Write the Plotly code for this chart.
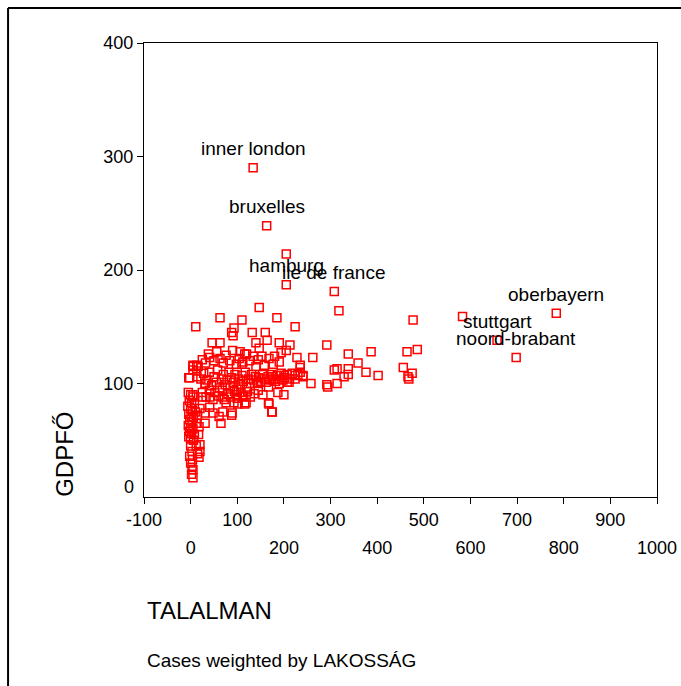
import plotly.graph_objects as go

# Labelled regions
label_names = ["inner london", "bruxelles", "hamburg", "ile de france", "oberbayern", "stuttgart", "noord-brabant"]
label_x = [134, 163, 205, 308, 784, 657, 698]
label_y = [290, 239, 187, 181, 162, 138, 123]

# Unlabelled regions (TALALMAN, GDPFŐ)
other_x = [
    205, 583, 318, 477, 486, 464, 456, 466, 475, 468, 387, 359, 338, 292, 262, 228, 224,
    235, 235, 235, 224, 241, 258, 292, 294, 314, 308, 314, 338, 338, 329, 376, 402,
    147, 185, 110, 63, 11, 93, 88, 91, 132, 160, 164, 140, 190, 213, 147, 205, 106, 116,
    134, 153, 194, 190, 177, 46, 63, 41, 63, 5, 13, 5, 13, -4, 13, 31, 140, 110,
    200, 211, 175, 190, 200, 187, 167, 167, 175, 112, 116, 101, 88, 5, 26,
    31, 65, 31, 48, 41, 61, 69, 89, 41, 69, 99, 93, 76, 119, 168, 174, 31, 5, 16, -2, 207, 241,
    -5, 0, 5, -3, 2, 8, -6, 0, 4, 10, -4, 1, 6, -2, 3, 12, -5, 0, 5, -3, 2, 8, -4, 0, 6,
    15, 18, 20, 17, 20, 20, 12, 0, 3, -2, 4, 0, 3, 5, 2, 5, 18, 15,
    22, 28, 35, 40, 45, 50, 55, 58, 62, 66, 70, 74, 78, 82, 85, 88, 92, 95, 99, 102,
    106, 110, 113, 117, 120, 124, 128, 131, 135, 139, 143, 146, 150, 154, 158, 162, 166, 170,
    174, 178, 182, 186, 190, 194, 198, 202, 207, 212, 218, 224, 230,
    25, 33, 40, 48, 52, 60, 68, 72, 80, 86, 94, 100, 108, 114, 122, 128, 136, 145, 155,
    25, 32, 38, 50, 56, 70, 76, 84, 90, 98, 104, 112, 120, 126, 145, 158, 168, 180,
]
other_y = [
    214, 159, 164, 156, 130, 128, 114, 106, 109, 104, 128, 118, 126, 134, 123, 123, 150,
    116, 114, 110, 107, 106, 100, 99, 97, 100, 112, 113, 113, 108, 106, 110, 107,
    167, 158, 156, 158, 150, 149, 145, 142, 145, 145, 138, 136, 136, 134, 131, 129, 128, 126,
    124, 124, 127, 119, 117, 136, 136, 123, 122, 116, 116, 112, 111, 105, 106, 100, 115, 117,
    107, 101, 106, 100, 90, 92, 97, 83, 75, 88, 82, 82, 72, 90, 88,
    74, 65, 65, 74, 79, 71, 75, 74, 88, 88, 90, 83, 83, 83, 82, 75, 100, 115, 115, 105, 101, 107,
    92, 90, 88, 85, 83, 82, 80, 78, 76, 75, 73, 71, 70, 68, 66, 65, 63, 61, 60, 58, 56, 55, 53, 51, 50,
    72, 62, 78, 55, 46, 40, 45, 45, 40, 36, 33, 30, 26, 24, 20, 17, 35, 38,
    104, 109, 103, 110, 98, 106, 101, 112, 96, 104, 108, 99, 103, 110, 97, 105, 101, 108, 95, 104,
    99, 107, 102, 110, 97, 104, 100, 108, 103, 106, 100, 105, 102, 108, 104, 101, 106, 103,
    108, 104, 102, 107, 104, 109, 103, 105, 108, 104, 109, 104, 108,
    92, 88, 94, 86, 92, 89, 94, 86, 91, 88, 93, 87, 92, 89, 93, 88, 91, 94, 90,
    121, 118, 126, 120, 128, 118, 125, 120, 129, 117, 122, 119, 126, 120, 121, 116, 122, 124,
]

x_odd_ticks = [-100, 100, 300, 500, 700, 900]
x_even_ticks = [0, 200, 400, 600, 800, 1000]
y_ticks = [100, 200, 300, 400]

FONT = "Liberation Sans, Arial, sans-serif"
RED = "#ff0000"

fig = go.Figure()
fig.add_trace(go.Scatter(
    x=other_x + label_x, y=other_y + label_y, mode="markers",
    marker=dict(symbol="square-open", size=8, color=RED, line=dict(width=1.5, color=RED)),
    showlegend=False, hoverinfo="skip",
))
fig.add_trace(go.Scatter(x=[None], y=[None], xaxis="x2", showlegend=False, hoverinfo="skip"))

for n, xv, yv in zip(label_names, label_x, label_y):
    fig.add_annotation(x=xv, y=yv, xref="x", yref="y", text=n, showarrow=False,
                       xanchor="center", yanchor="middle",
                       yshift=19, font=dict(family=FONT, size=19, color="black"))

# y tick label "0" drawn slightly raised, as in the reference
fig.add_annotation(x=0, y=0, xref="paper", yref="y", text="0", showarrow=False,
                   xanchor="right", yanchor="middle", xshift=-8, yshift=10,
                   font=dict(family=FONT, size=18, color="black"))

fig.add_annotation(x=-0.154, y=0.095, xref="paper", yref="paper", text="GDPFŐ", textangle=-90,
                   xanchor="center", yanchor="middle",
                   showarrow=False, font=dict(family=FONT, size=24, color="black"))
fig.add_annotation(x=0.002, y=-0.249, xref="paper", yref="paper", text="TALALMAN",
                   xanchor="left", yanchor="middle",
                   showarrow=False, font=dict(family=FONT, size=24, color="black"))
fig.add_annotation(x=0.002, y=-0.361, xref="paper", yref="paper", text="Cases weighted by LAKOSSÁG",
                   xanchor="left", yanchor="middle",
                   showarrow=False, font=dict(family=FONT, size=19, color="black"))

# outer frame (left and top edges visible)
fig.add_shape(type="line", xref="paper", yref="paper", x0=-0.265, x1=-0.265, y0=1.0771, y1=-0.5,
              line=dict(color="black", width=2))
fig.add_shape(type="line", xref="paper", yref="paper", x0=-0.265, x1=1.2, y0=1.0771, y1=1.0771,
              line=dict(color="black", width=2))

fig.update_layout(
    width=681, height=686,
    margin=dict(l=144, r=24, t=43, b=189, autoexpand=False),
    paper_bgcolor="white", plot_bgcolor="white",
    font=dict(family=FONT, size=18, color="black"),
    xaxis=dict(range=[-100, 1000], tickmode="array", tickvals=x_odd_ticks + x_even_ticks,
               ticktext=[str(v) for v in x_odd_ticks] + [""] * len(x_even_ticks),
               ticks="outside", ticklen=6, tickcolor="black", tickwidth=1,
               showline=True, linecolor="black", linewidth=1, mirror=True,
               showgrid=False, zeroline=False, tickfont=dict(size=18), automargin=False),
    xaxis2=dict(range=[-100, 1000], overlaying="x", side="bottom", anchor="y",
                tickmode="array", tickvals=x_even_ticks, ticktext=[str(v) for v in x_even_ticks],
                ticks="", showline=False, showgrid=False, zeroline=False,
                ticklabelstandoff=38, tickfont=dict(size=18), automargin=False),
    yaxis=dict(range=[0, 400], tickmode="array", tickvals=y_ticks,
               ticktext=[str(v) for v in y_ticks],
               ticks="outside", ticklen=6, tickcolor="black", tickwidth=1,
               showline=True, linecolor="black", linewidth=1, mirror=True,
               showgrid=False, zeroline=False, tickfont=dict(size=18), automargin=False),
)

fig.write_html(
    "out.html",
    config={"displayModeBar": False},
    post_script="document.body.style.margin='0';document.body.style.overflow='hidden';",
)
